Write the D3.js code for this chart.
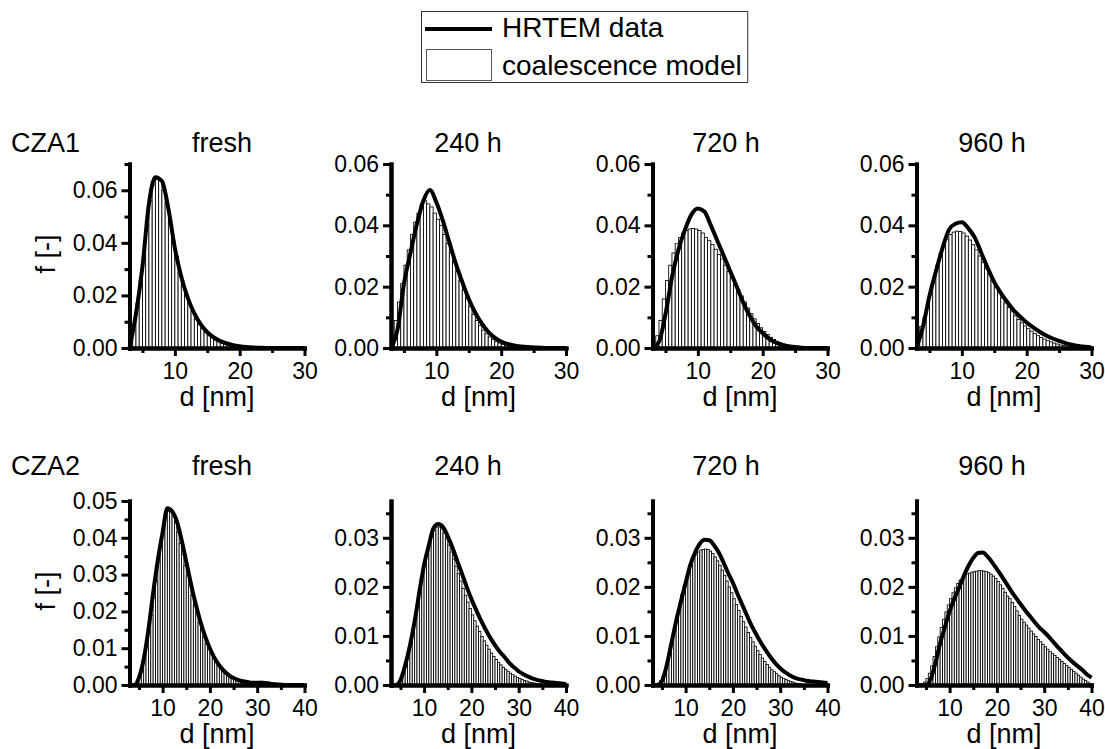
<!DOCTYPE html>
<html>
<head>
<meta charset="utf-8">
<script src="https://cdn.jsdelivr.net/npm/d3@7"></script>
<style>
	body { margin:0; background:#fff; }
	svg text { font-family:"Liberation Sans", Arial, Helvetica, sans-serif; fill:#000; }
</style>
</head>
<body>
<div id="c-svg"></div>
<script>

//data : particle size distributions, d in nm, f in [-]
const rowLabels = ["CZA1", "CZA2"];
const panelTitles = ["fresh", "240 h", "720 h", "960 h"];
const legendLabels = ["HRTEM data", "coalescence model"];

const dStart = 3;        //first bin edge / first curve point
const binWidth = 0.5;    //model histogram bin width
const curveStep = 1;     //HRTEM curve sampled every 1 nm

//CZA1 - model histograms (bins from 3 nm, 0.5 nm wide)
const cza1FreshModel = [.002,.009,.017,.026,.036,.047,.056,.062,.064,.064,.060,.055,.048,.041,.035,.029,.024,.020,.017,.014,.011,.009,.0075,.006,.005,.004,.0032,.0025,.002,.0016,.0012,.001,.0007,.0005,.0003,.0002,.0001,.0001];
const cza1H240Model = [.004,.009,.015,.021,.027,.032,.037,.041,.044,.047,.048,.047,.046,.044,.042,.040,.037,.034,.031,.028,.025,.022,.019,.016,.0135,.011,.009,.0073,.0058,.0046,.0036,.0028,.0021,.0016,.0012,.0009,.0007,.0005,.0004,.0003,.0002,.0001];
const cza1H720Model = [.001,.004,.009,.016,.022,.027,.031,.034,.036,.0375,.0383,.0388,.039,.0388,.0383,.0375,.036,.035,.0338,.0322,.0305,.029,.027,.025,.023,.021,.019,.017,.015,.013,.0112,.0095,.008,.0066,.0054,.0044,.0035,.0028,.0022,.0017,.0013,.001,.0008,.0006,.0004,.0003,.0002,.0001];
const cza1H960Model = [.003,.007,.010,.0135,.0175,.0225,.027,.031,.0335,.0355,.037,.0378,.0381,.038,.0375,.0365,.0352,.0337,.032,.030,.028,.026,.024,.022,.020,.018,.0163,.0147,.0132,.0118,.0105,.0093,.0082,.0072,.0063,.0055,.0047,.004,.0034,.0029,.0024,.002,.0016,.0013,.001,.0008,.0006,.0005,.0004,.0003,.0002,.0001];

//CZA1 - HRTEM curves (d = 3..30 nm)
const cza1FreshHrtem = [0,.013,.031,.055,.065,.0635,.053,.038,.027,.019,.0132,.009,.006,.004,.0026,.0017,.0011,.0007,.0004,.0002,.0001,0,0,0,0,0,0,0];
const cza1H240Hrtem = [0,.006,.021,.031,.0405,.048,.0515,.0475,.0415,.0345,.0275,.0215,.016,.0115,.008,.0053,.0034,.0021,.0013,.0008,.0005,.0003,.0002,.0001,0,0,0,0];
const cza1H720Hrtem = [0,.002,.011,.023,.032,.0385,.0435,.0455,.0445,.040,.035,.030,.025,.020,.0148,.0105,.0071,.0048,.003,.0018,.001,.0006,.0003,.0001,0,0,0,0];
const cza1H960Hrtem = [0,.007,.017,.025,.0325,.0385,.0405,.041,.039,.036,.031,.026,.0215,.018,.015,.0123,.0102,.0083,.0067,.0053,.0041,.0031,.0023,.0016,.0011,.0007,.0004,.0002];

//CZA2 - model histograms (bins from 3 nm, 0.5 nm wide)
const cza2FreshModel = [0,0,.0003,.0012,.0025,.0045,.0072,.0105,.0145,.019,.0238,.0285,.0335,.038,.042,.0455,.0472,.0475,.0462,.0442,.0415,.0385,.0355,.0325,.0297,.027,.0243,.0217,.0193,.017,.0149,.013,.0113,.0098,.0085,.0073,.0063,.0054,.0046,.0039,.0033,.0028,.0024,.002,.0017,.0014,.0012,.001,.0009,.0008,.0007,.0007,.0007,.0008,.0009,.001,.001,.0009,.0008,.0006,.0004,.0002,.0001];
const cza2H240Model = [0,0,.0002,.0007,.0015,.0028,.0045,.0066,.009,.0115,.0142,.0168,.0195,.022,.0245,.0268,.0288,.0303,.0315,.0322,.0322,.0318,.031,.0298,.0285,.0271,.0257,.0242,.0227,.0212,.0197,.0183,.0169,.0156,.0143,.0131,.012,.0109,.0099,.009,.0081,.0073,.0065,.0058,.0052,.0046,.0041,.0036,.0032,.0028,.0024,.0021,.0018,.0015,.0013,.0011,.0009,.0008,.0006,.0005,.0004,.0003,.0002,.0002,.0001];
const cza2H720Model = [0,0,.0003,.0009,.0018,.003,.005,.0072,.0095,.012,.0143,.0165,.0185,.0203,.022,.0235,.0247,.0257,.0265,.0271,.0275,.0276,.0277,.0276,.0273,.0268,.0261,.0253,.0244,.0234,.0223,.0212,.02,.0188,.0176,.0164,.0152,.014,.0129,.0118,.0107,.0097,.0088,.0079,.007,.0062,.0055,.0048,.0042,.0036,.0031,.0027,.0023,.0019,.0016,.0013,.0011,.0009,.0007,.0006,.0004,.0003,.0002,.0001];
const cza2H960Model = [0,0,.0002,.0006,.0013,.0024,.0039,.0058,.0078,.0098,.0117,.0134,.0149,.0163,.0176,.0188,.0198,.0207,.0214,.0219,.0223,.0226,.0228,.023,.0231,.0232,.0233,.0233,.0232,.0231,.0229,.0226,.0222,.0217,.0211,.0204,.0197,.0189,.0181,.0176,.0168,.016,.0151,.0142,.0134,.0128,.0122,.0116,.011,.0104,.0099,.0093,.0088,.0083,.0078,.0073,.0068,.0064,.006,.0056,.0052,.0048,.0044,.004,.0036,.0032,.0028,.0024,.002,.0016,.0012,.0009,.0006,.0003];

//CZA2 - HRTEM curves (d = 3..40 nm)
const cza2FreshHrtem = [0,0,.002,.007,.015,.025,.034,.0415,.048,.0472,.0445,.0395,.0335,.0275,.022,.0172,.0132,.0099,.0073,.0053,.0038,.0027,.0019,.0014,.001,.0008,.0006,.0006,.0006,.0005,.0003,.0002,.0001,0,0,0,0,0];
const cza2H240Hrtem = [0,0,.001,.004,.008,.013,.019,.0245,.0285,.032,.0328,.0322,.0303,.028,.0253,.0227,.020,.0175,.0153,.0132,.0113,.0096,.0081,.0068,.0057,.0045,.0036,.0028,.0022,.0017,.0013,.001,.0008,.0006,.0005,.0004,.0003,.0002];
const cza2H720Hrtem = [0,0,.0008,.004,.0085,.013,.017,.0208,.0245,.027,.0288,.0296,.0295,.0285,.027,.025,.0228,.0208,.0185,.0163,.0141,.012,.0102,.0085,.007,.0056,.0044,.0034,.0026,.002,.0015,.0012,.001,.0008,.0007,.0006,.0005,.0004];
const cza2H960Hrtem = [0,0,0,.0012,.0045,.0085,.0118,.015,.0176,.0198,.0222,.0243,.0259,.0269,.027,.0262,.025,.0236,.0222,.0207,.0192,.0178,.0165,.0152,.014,.0128,.0117,.0108,.0098,.0087,.0076,.0066,.0056,.0047,.0039,.0031,.0022,.0015];

//axis extents and ticks
const dMaxRow = [30, 40];
const fMaxPanel = [[0.07, 0.06, 0.06, 0.06], [0.05, 0.0375, 0.0375, 0.0375]];
const xMajorRow = [[10, 20, 30], [10, 20, 30, 40]];
const xMinorRow = [[5, 15, 25], [5, 15, 25, 35]];
const yMajorPanel = [
	[[0, .02, .04, .06], [0, .02, .04, .06], [0, .02, .04, .06], [0, .02, .04, .06]],
	[[0, .01, .02, .03, .04, .05], [0, .01, .02, .03], [0, .01, .02, .03], [0, .01, .02, .03]]
];
const yMinorPanel = [
	[[.01, .03, .05, .07], [.01, .03, .05], [.01, .03, .05], [.01, .03, .05]],
	[[.005, .015, .025, .035, .045], [.005, .015, .025, .035], [.005, .015, .025, .035], [.005, .015, .025, .035]]
];

const models = [[cza1FreshModel, cza1H240Model, cza1H720Model, cza1H960Model], [cza2FreshModel, cza2H240Model, cza2H720Model, cza2H960Model]];
const hrtems = [[cza1FreshHrtem, cza1H240Hrtem, cza1H720Hrtem, cza1H960Hrtem], [cza2FreshHrtem, cza2H240Hrtem, cza2H720Hrtem, cza2H960Hrtem]];


function graph(){

	//sizing
	let width = 1105;
	let height = 749;
	let plotW = 175;
	let plotH = 184;
	let colX = [129.5, 391, 652.5, 916.5];       //y axis positions
	let rowY = [348, 685];                        //x axis positions
	let titleX = [222, 468, 726, 992];
	let titleY = [152, 475];

	let svg = d3.select("#c-svg")
		.append("svg")
		.attr("width", width)
		.attr("height", height);

	//legend
	let legend = svg.append("g").attr("class", "legend");
	let legBox = legend.append("rect")
		.attr("x", 421.5)
		.attr("y", 11.5)
		.attr("height", 71)
		.attr("fill", "none")
		.attr("stroke", "#333")
		.attr("stroke-width", 1);
	legend.append("line")
		.attr("x1", 425).attr("x2", 492)
		.attr("y1", 29).attr("y2", 29)
		.attr("stroke", "#000")
		.attr("stroke-width", 4);
	legend.append("rect")
		.attr("x", 426.5).attr("y", 49.5)
		.attr("width", 65).attr("height", 31)
		.attr("fill", "#fff")
		.attr("stroke", "#555")
		.attr("stroke-width", 1);
	let legText = legend.selectAll("text")
		.data(legendLabels)
		.join("text")
		.attr("x", 502)
		.attr("y", (d, i) => i === 0 ? 37 : 75)
		.attr("font-size", 28)
		.text(d => d);
	let legRight = d3.max(legText.nodes(), n => 502 + n.getComputedTextLength());
	legBox.attr("width", legRight + 6 - 421.5);

	//row labels
	svg.selectAll("text.row-label")
		.data(rowLabels)
		.join("text")
		.attr("class", "row-label")
		.attr("x", 11)
		.attr("y", (d, i) => titleY[i])
		.attr("font-size", 27)
		.text(d => d);

	//panels
	for (let r = 0; r < 2; r++){
		for (let c = 0; c < 4; c++){

			let x = d3.scaleLinear()
				.domain([dStart, dMaxRow[r]])
				.range([colX[c], colX[c] + plotW]);

			let y = d3.scaleLinear()
				.domain([0, fMaxPanel[r][c]])
				.range([rowY[r], rowY[r] - plotH]);

			let g = svg.append("g").attr("class", "panel");

			//model histogram
			let bins = models[r][c]
				.map((v, i) => ({v: v, x0: dStart + i * binWidth, x1: dStart + (i + 1) * binWidth}))
				.filter(d => d.v > 0);

			g.append("g")
				.selectAll("rect")
				.data(bins)
				.join("rect")
				.attr("x", d => x(d.x0))
				.attr("width", d => x(d.x1) - x(d.x0))
				.attr("y", d => y(d.v))
				.attr("height", d => y(0) - y(d.v))
				.attr("fill", "#fff")
				.attr("stroke", "#000")
				.attr("stroke-width", 0.85);

			//HRTEM curve
			let line = d3.line()
				.x((d, i) => x(dStart + i * curveStep))
				.y(d => y(d))
				.curve(d3.curveMonotoneX);

			g.append("path")
				.datum(hrtems[r][c])
				.attr("d", line)
				.attr("fill", "none")
				.attr("stroke", "#000")
				.attr("stroke-width", 4)
				.attr("stroke-linejoin", "round");

			//axes
			let xAxis = d3.axisBottom(x)
				.tickValues(xMajorRow[r])
				.tickSize(8)
				.tickSizeOuter(0)
				.tickPadding(7)
				.tickFormat(d3.format("d"));
			let xMinor = d3.axisBottom(x)
				.tickValues(xMinorRow[r])
				.tickSize(5)
				.tickSizeOuter(0)
				.tickFormat("");
			let yAxis = d3.axisLeft(y)
				.tickValues(yMajorPanel[r][c])
				.tickSize(8)
				.tickSizeOuter(0)
				.tickPadding(4)
				.tickFormat(d3.format(".2f"));
			let yMinor = d3.axisLeft(y)
				.tickValues(yMinorPanel[r][c])
				.tickSize(5)
				.tickSizeOuter(0)
				.tickFormat("");

			let axes = [
				g.append("g").attr("transform", `translate(0,${rowY[r]})`).call(xMinor),
				g.append("g").attr("transform", `translate(0,${rowY[r]})`).call(xAxis),
				g.append("g").attr("transform", `translate(${colX[c]},0)`).call(yMinor),
				g.append("g").attr("transform", `translate(${colX[c]},0)`).call(yAxis)
			];

			axes.forEach(a => {
				a.select(".domain")
					.attr("stroke", "#000")
					.attr("stroke-width", 4)
					.attr("stroke-linecap", "square");
				a.selectAll(".tick line")
					.attr("stroke", "#000")
					.attr("stroke-width", 3);
				a.selectAll(".tick text")
					.attr("font-size", 23)
					.attr("font-family", "Liberation Sans, Arial, sans-serif")
					.attr("fill", "#000");
			});

			//panel title
			g.append("text")
				.attr("x", titleX[c])
				.attr("y", titleY[r])
				.attr("text-anchor", "middle")
				.attr("font-size", 27)
				.text(panelTitles[c]);

			//x label
			g.append("text")
				.attr("x", colX[c] + plotW / 2)
				.attr("y", rowY[r] + 58)
				.attr("text-anchor", "middle")
				.attr("font-size", 27)
				.text("d [nm]");

			//y label (first column only)
			if (c === 0){
				g.append("text")
					.attr("transform", `translate(55,${rowY[r] - plotH / 2 - 2}) rotate(-90)`)
					.attr("text-anchor", "middle")
					.attr("font-size", 27)
					.text("f [-]");
			}
		}
	}

} //function graph


graph();

</script>
</body>
</html>
